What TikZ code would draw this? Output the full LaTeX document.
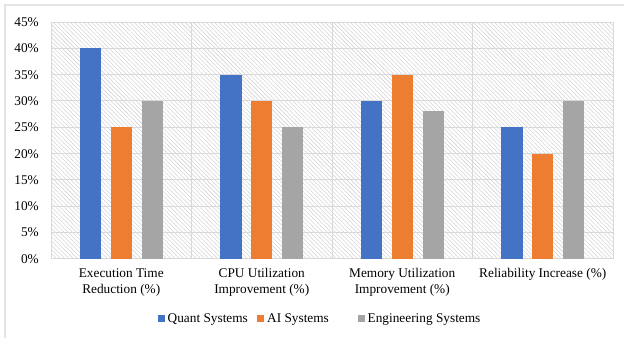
\documentclass[tikz,border=0pt]{standalone}
\usepackage{fontspec}
\setmainfont{Liberation Serif}
\usetikzlibrary{patterns.meta}
\definecolor{qblue}{HTML}{4472C4}
\definecolor{aorange}{HTML}{ED7D31}
\definecolor{egray}{HTML}{A5A5A5}
\definecolor{gridc}{HTML}{D9D9D9}
\definecolor{framec}{HTML}{E4E4E4}
\definecolor{hatchc}{HTML}{D4D4D4}
\begin{document}
\begin{tikzpicture}[x=1pt,y=-1pt,
  font=\fontsize{13.3}{16}\selectfont,
  gridline/.style={draw=gridc, line width=0.9pt},
  barbox/.style={inner sep=0pt, outer sep=0pt, minimum width=21.3pt, anchor=south, draw=none},
  ticklabel/.style={anchor=base east, inner sep=0pt},
  catlabel/.style={anchor=base, inner sep=0pt},
  legsq/.style={inner sep=0pt, minimum size=7pt, anchor=south west},
  legtext/.style={anchor=base west, inner sep=0pt}]
\useasboundingbox (0,0) rectangle (624,338);
% outer frame (top and left visible)
\draw[framec, line width=1.5pt] (5,338) -- (5,5) -- (624,5);
% hatched plot area
\fill[pattern={Lines[angle=-45,distance=3pt,line width=0.55pt]}, pattern color=hatchc] (51,22) rectangle (613,258.7);
% horizontal gridlines and tick labels
\foreach \k in {0,...,9}{
  \pgfmathsetmacro{\yy}{258.7-26.3*\k}
  \pgfmathtruncatemacro{\pc}{5*\k}
  \draw[gridline] (51,\yy) -- (613,\yy);
  \node[ticklabel] (t\k) at (39,\yy+4.5) {\pc\%};
}
% vertical gridlines
\foreach \i in {0,...,4}{
  \draw[gridline] (51+140.5*\i,22) -- (51+140.5*\i,258.7);
}
% bars
\foreach \i/\a/\b/\c in {0/40/25/30, 1/35/30/25, 2/30/35/28, 3/25/20/30}{
  \pgfmathsetmacro{\xo}{51+140.5*\i}
  \node[barbox, fill=qblue, minimum height=5.26*\a pt] (q\i) at (\xo+39.35,258.7) {};
  \node[barbox, fill=aorange, minimum height=5.26*\b pt] (a\i) at (\xo+70.25,258.7) {};
  \node[barbox, fill=egray, minimum height=5.26*\c pt] (e\i) at (\xo+101.15,258.7) {};
}
% category labels
\node[catlabel] (c0a) at (121.25,277.5) {Execution Time};
\node[catlabel] (c0b) at (121.25,293.8) {Reduction (\%)};
\node[catlabel] (c1a) at (261.75,277.5) {CPU Utilization};
\node[catlabel] (c1b) at (261.75,293.8) {Improvement (\%)};
\node[catlabel] (c2a) at (402.25,277.5) {Memory Utilization};
\node[catlabel] (c2b) at (402.25,293.8) {Improvement (\%)};
\node[catlabel] (c3a) at (542.75,277.5) {Reliability Increase (\%)};
% legend
\node[legsq, fill=qblue] (lq) at (157.5,322) {};
\node[legtext] (lqt) at (167.5,322.3) {Quant Systems};
\node[legsq, fill=aorange] (la) at (257,322) {};
\node[legtext] (lat) at (267,322.3) {AI Systems};
\node[legsq, fill=egray] (le) at (357.5,322) {};
\node[legtext] (let) at (367.5,322.3) {Engineering Systems};
\end{tikzpicture}
\end{document}
